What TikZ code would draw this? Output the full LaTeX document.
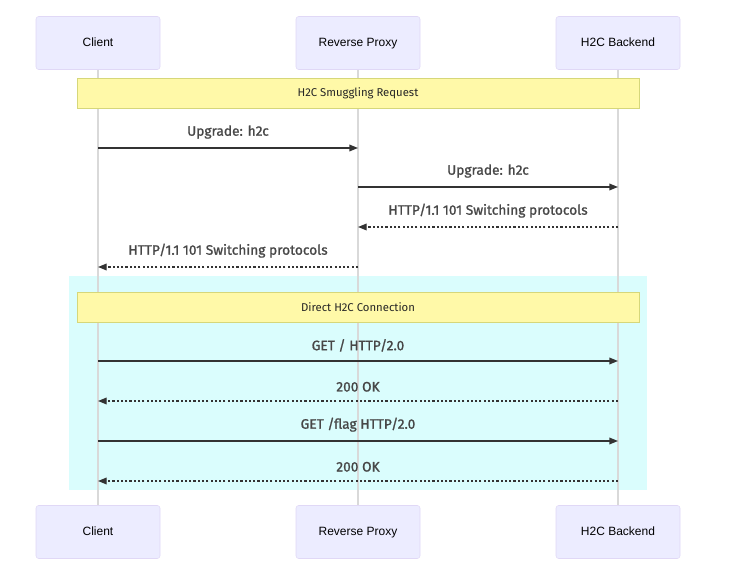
\documentclass[tikz,border=0pt]{standalone}
\usepackage{fontspec}
\setmainfont{Liberation Sans}
\newfontfamily\msgfont{Fira Sans}[FakeBold=1.2]
\newfontfamily\notefont{Fira Sans}
\usepackage{tikz}
\usetikzlibrary{arrows.meta,calc,positioning}
\usepackage{xcolor}
\definecolor{actorfill}{HTML}{ECECFF}
\definecolor{actorline}{HTML}{E0D8F6}
\definecolor{notefill}{HTML}{FFF9A8}
\definecolor{noteline}{HTML}{D6D77A}
\definecolor{boxfill}{HTML}{DAFDFD}
\definecolor{lifeline}{HTML}{D9D9D9}
\definecolor{msgline}{HTML}{333333}

\begin{document}
\begin{tikzpicture}[x=0.75pt, y=-0.75pt, every node/.style={font=\fontsize{9}{11}\selectfont},
  actor/.style={draw=actorline, fill=actorfill, rounded corners=2pt, minimum width=93pt, minimum height=39.75pt, inner sep=0pt, text height=6.8pt, text depth=1.5pt},
  notebox/.style={draw=noteline, fill=notefill, minimum width=421.5pt, minimum height=22.5pt, inner sep=0pt, font=\notefont\fontsize{8.5}{10}\selectfont, text=black!85},
  msg/.style={draw=msgline, line width=1pt, -{Triangle[length=6.5pt,width=5pt]}},
  reply/.style={msg, dash pattern=on 1.6pt off 1.6pt},
  msglabel/.style={font=\msgfont\fontsize{10.3}{12}\selectfont, text=msgline!90!white, inner sep=0pt}]
  \useasboundingbox (0,0) rectangle (747,566);
  % background of the direct connection block
  \fill[boxfill] (69,276) rectangle (647,490);
  % actors, top and bottom
  \node[actor] (ct) at (98,43) {Client};
  \node[actor] (pt) at (358,43) {Reverse Proxy};
  \node[actor] (bt) at (618,43) {H2C Backend};
  \node[actor] (cb) at (98,532) {Client};
  \node[actor] (pb) at (358,532) {Reverse Proxy};
  \node[actor] (bb) at (618,532) {H2C Backend};
  % lifelines
  \draw[lifeline, line width=0.8pt] (ct) -- (cb);
  \draw[lifeline, line width=0.8pt] (pt) -- (pb);
  \draw[lifeline, line width=0.8pt] (bt) -- (bb);
  % notes
  \node[notebox] (n1) at (358,93) {H2C Smuggling Request};
  \node[notebox] (n2) at (358,307) {Direct H2C Connection};
  % message rows
  \coordinate (r1) at (0,148);
  \coordinate (r2) at (0,187);
  \coordinate (r3) at (0,227);
  \coordinate (r4) at (0,267);
  \coordinate (r5) at (0,361);
  \coordinate (r6) at (0,401);
  \coordinate (r7) at (0,441);
  \coordinate (r8) at (0,481);
  % messages
  \draw[msg] (ct |- r1) -- node[msglabel, above=6.5pt] {Upgrade: h2c} (pt |- r1);
  \draw[msg] (pt |- r2) -- node[msglabel, above=6.5pt] {Upgrade: h2c} (bt |- r2);
  \draw[reply] (bt |- r3) -- node[msglabel, above=6.5pt] {HTTP/1.1 101 Switching protocols} (pt |- r3);
  \draw[reply] (pt |- r4) -- node[msglabel, above=6.5pt] {HTTP/1.1 101 Switching protocols} (ct |- r4);
  \draw[msg] (ct |- r5) -- node[msglabel, above=6.5pt] {GET / HTTP/2.0} (bt |- r5);
  \draw[reply] (bt |- r6) -- node[msglabel, above=6.5pt] {200 OK} (ct |- r6);
  \draw[msg] (ct |- r7) -- node[msglabel, above=6.5pt] {GET /flag HTTP/2.0} (bt |- r7);
  \draw[reply] (bt |- r8) -- node[msglabel, above=6.5pt] {200 OK} (ct |- r8);
\end{tikzpicture}
\end{document}
